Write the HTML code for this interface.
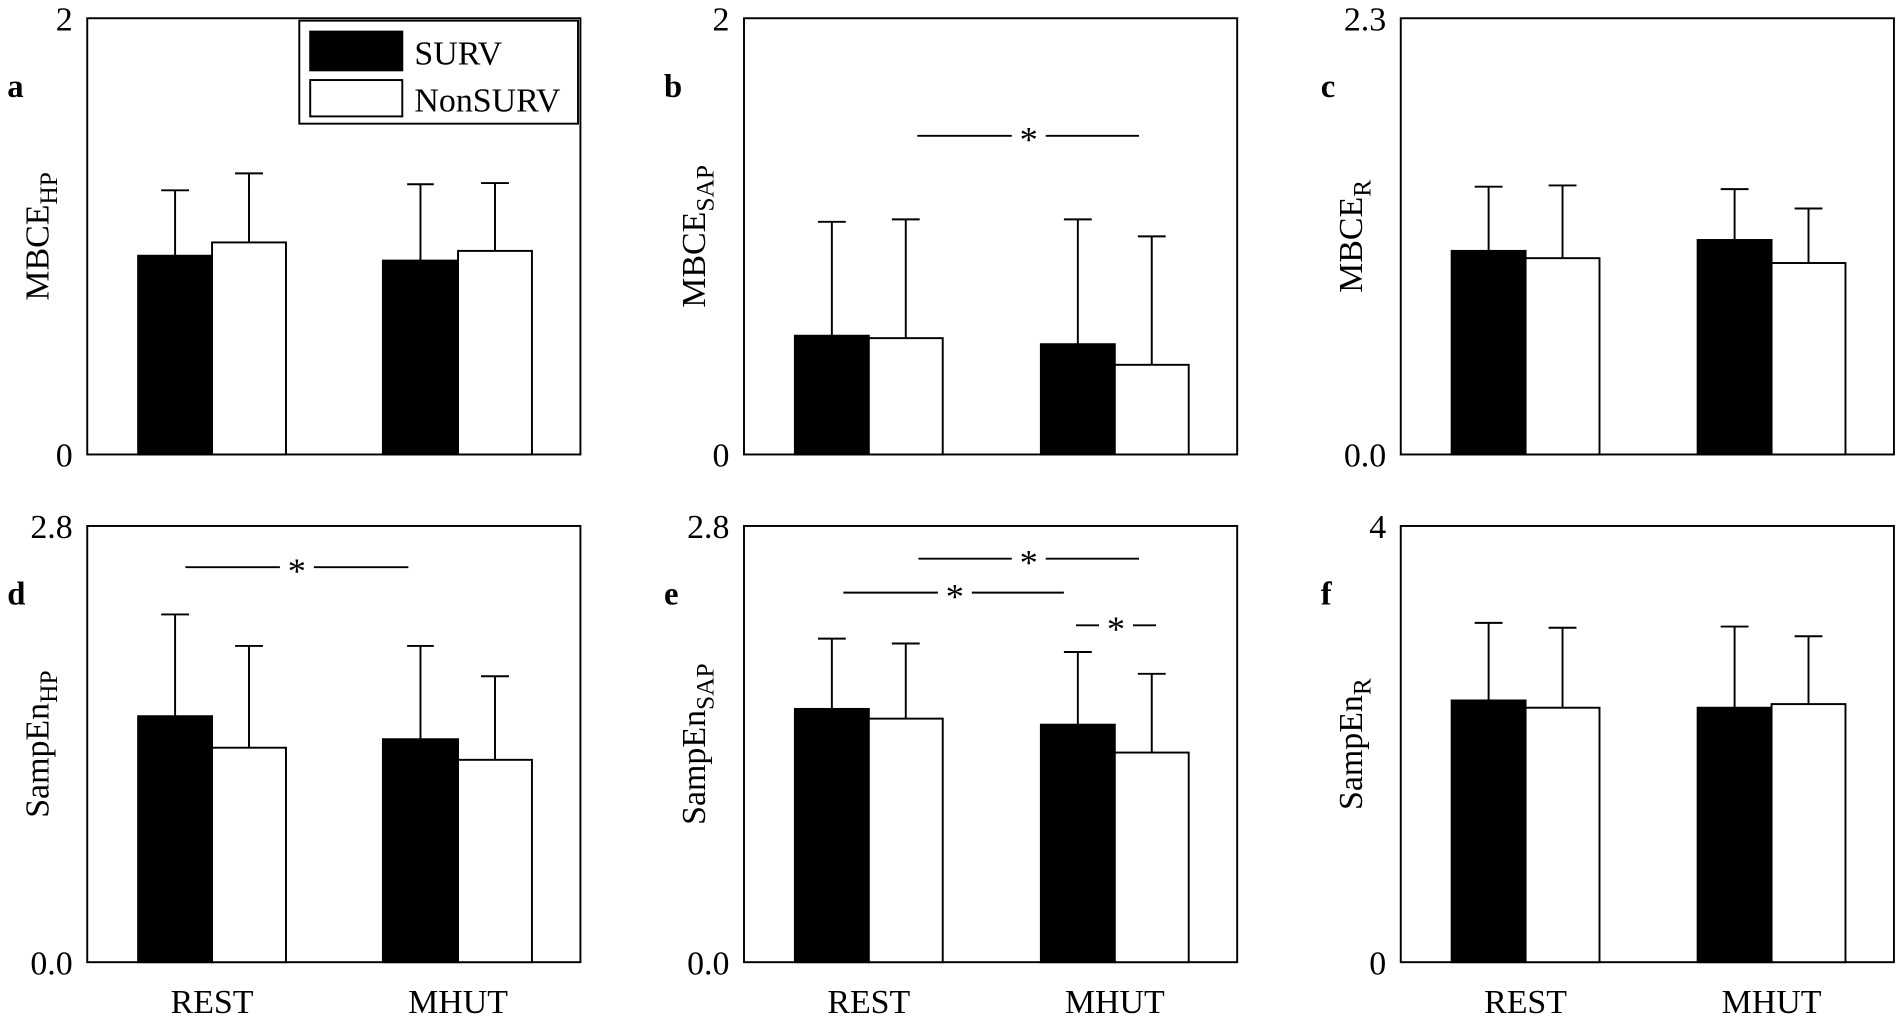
<!DOCTYPE html>
<html><head><meta charset="utf-8"><style>
html,body{margin:0;padding:0;background:#fff;}
svg{display:block;}
text{font-family:"Liberation Serif",serif;fill:#000;}
</style></head><body>
<svg width="1900" height="1018" viewBox="0 0 1568 840" xmlns="http://www.w3.org/2000/svg">
<g fill="none" stroke="#000" stroke-width="1.6">
<rect x="72" y="15" width="407" height="360"/>
<rect x="614" y="15" width="407" height="360"/>
<rect x="1156" y="15" width="407" height="360"/>
<rect x="72" y="434" width="407" height="360"/>
<rect x="614" y="434" width="407" height="360"/>
<rect x="1156" y="434" width="407" height="360"/>
<path d="M144.5 211V157M133 157H156 M205.5 200V143M194 143H217 M347 215V152M336 152H358 M408.5 207V151M397 151H420"/>
<path d="M686.5 277V183M675 183H698 M747.5 279V181M736 181H759 M889.5 284V181M878 181H901 M950.5 301V195M939 195H962"/>
<path d="M1228.5 207V154M1217 154H1240 M1289.5 213V153M1278 153H1301 M1431.5 198V156M1420 156H1443 M1492.5 217V172M1481 172H1504"/>
<path d="M144.5 591V507M133 507H156 M205.5 617V533M194 533H217 M347 610V533M336 533H358 M408.5 627V558M397 558H420"/>
<path d="M686.5 585V527M675 527H698 M747.5 593V531M736 531H759 M889.5 598V538M878 538H901 M950.5 621V556M939 556H962"/>
<path d="M1228.5 578V514M1217 514H1240 M1289.5 584V518M1278 518H1301 M1431.5 584V517M1420 517H1443 M1492.5 581V525M1481 525H1504"/>
<path d="M757 112H835 M863 112H940 M153 468H231 M259 468H337 M758 461H835 M863 461H940 M696 489H774 M802 489H878 M888 516H907 M935 516H954"/>
</g>
<g stroke="#000" stroke-width="1.6">
<rect x="114" y="211" width="61" height="164" fill="#000"/><rect x="175" y="200" width="61" height="175" fill="#fff"/>
<rect x="316" y="215" width="62" height="160" fill="#000"/><rect x="378" y="207" width="61" height="168" fill="#fff"/>
<rect x="656" y="277" width="61" height="98" fill="#000"/><rect x="717" y="279" width="61" height="96" fill="#fff"/>
<rect x="859" y="284" width="61" height="91" fill="#000"/><rect x="920" y="301" width="61" height="74" fill="#fff"/>
<rect x="1198" y="207" width="61" height="168" fill="#000"/><rect x="1259" y="213" width="61" height="162" fill="#fff"/>
<rect x="1401" y="198" width="61" height="177" fill="#000"/><rect x="1462" y="217" width="61" height="158" fill="#fff"/>
<rect x="114" y="591" width="61" height="203" fill="#000"/><rect x="175" y="617" width="61" height="177" fill="#fff"/>
<rect x="316" y="610" width="62" height="184" fill="#000"/><rect x="378" y="627" width="61" height="167" fill="#fff"/>
<rect x="656" y="585" width="61" height="209" fill="#000"/><rect x="717" y="593" width="61" height="201" fill="#fff"/>
<rect x="859" y="598" width="61" height="196" fill="#000"/><rect x="920" y="621" width="61" height="173" fill="#fff"/>
<rect x="1198" y="578" width="61" height="216" fill="#000"/><rect x="1259" y="584" width="61" height="210" fill="#fff"/>
<rect x="1401" y="584" width="61" height="210" fill="#000"/><rect x="1462" y="581" width="61" height="213" fill="#fff"/>
<rect x="247" y="17" width="230" height="85" fill="#fff"/>
<rect x="256" y="26" width="76" height="32" fill="#000"/>
<rect x="256" y="66" width="76" height="30" fill="#fff"/>
</g>
<g font-size="28">
<text x="342" y="53">SURV</text>
<text x="342" y="92">NonSURV</text>
<g text-anchor="end">
<text x="60" y="25">2</text><text x="60" y="385">0</text>
<text x="602" y="25">2</text><text x="602" y="385">0</text>
<text x="1144" y="25">2.3</text><text x="1144" y="385">0.0</text>
<text x="60" y="444">2.8</text><text x="60" y="804">0.0</text>
<text x="602" y="444">2.8</text><text x="602" y="804">0.0</text>
<text x="1144" y="444">4</text><text x="1144" y="804">0</text>
</g>
<g text-anchor="middle">
<text x="175" y="836">REST</text><text x="378" y="836">MHUT</text>
<text x="717" y="836">REST</text><text x="920" y="836">MHUT</text>
<text x="1259" y="836">REST</text><text x="1462" y="836">MHUT</text>
</g>
<g text-anchor="middle" font-size="30">
<text x="849" y="125">*</text><text x="245" y="481">*</text>
<text x="849" y="474">*</text><text x="788" y="502">*</text><text x="921" y="529">*</text>
</g>
<g font-weight="bold" font-size="27">
<text x="6" y="80">a</text><text x="548" y="80">b</text><text x="1090" y="80">c</text>
<text x="6" y="499">d</text><text x="548" y="499">e</text><text x="1090" y="499">f</text>
</g>
<text transform="translate(40,195) rotate(-90)" text-anchor="middle">MBCE<tspan font-size="21" dy="7">HP</tspan></text>
<text transform="translate(582,195) rotate(-90)" text-anchor="middle">MBCE<tspan font-size="21" dy="7">SAP</tspan></text>
<text transform="translate(1124,195) rotate(-90)" text-anchor="middle">MBCE<tspan font-size="21" dy="7">R</tspan></text>
<text transform="translate(40,614) rotate(-90)" text-anchor="middle">SampEn<tspan font-size="21" dy="7">HP</tspan></text>
<text transform="translate(582,614) rotate(-90)" text-anchor="middle">SampEn<tspan font-size="21" dy="7">SAP</tspan></text>
<text transform="translate(1124,614) rotate(-90)" text-anchor="middle">SampEn<tspan font-size="21" dy="7">R</tspan></text>
</g>
</svg>
</body></html>
